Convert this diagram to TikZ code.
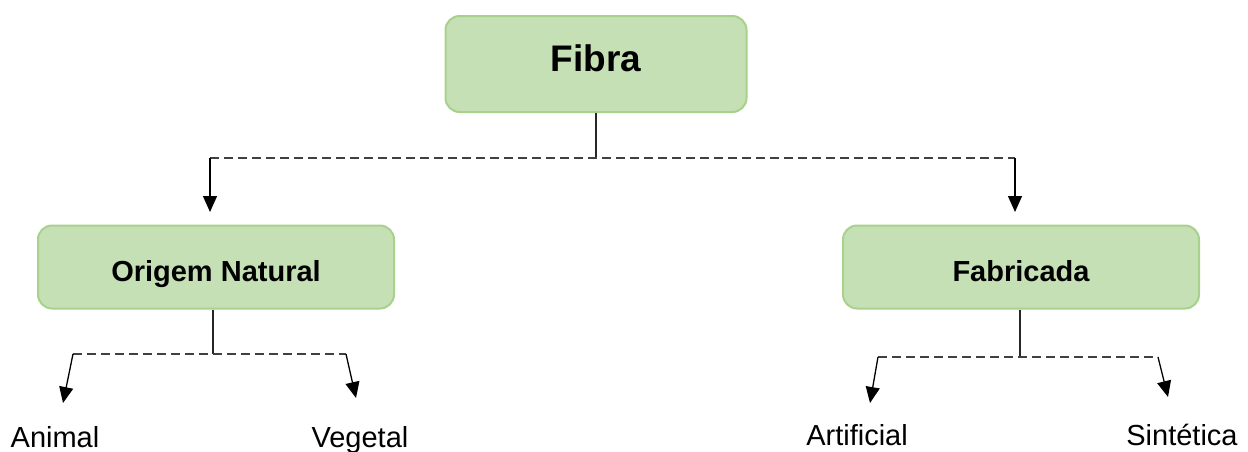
\documentclass[tikz,border=0pt]{standalone}
\usepackage{fontspec}
\setmainfont{Liberation Sans}
\usetikzlibrary{arrows.meta, positioning}
\definecolor{box-fill}{HTML}{C5E0B4}
\definecolor{box-line}{HTML}{A9D18E}
\definecolor{rail-grey}{HTML}{404040}

\begin{document}
\begin{tikzpicture}[x=1pt, y=-1pt,
  box/.style={draw=box-line, line width=2pt, fill=box-fill, rounded corners=14pt, inner sep=0pt,
    minimum width=356pt, minimum height=83pt, text height=28pt, text depth=0pt,
    font=\bfseries\fontsize{29}{34}\selectfont},
  leaf/.style={anchor=base, inner sep=0pt, font=\fontsize{29}{34}\selectfont},
  stem/.style={line width=1.2pt, draw=black!85},
  rail/.style={line width=1.2pt, draw=rail-grey, dash pattern=on 9pt off 5pt},
  tip/.style={line width=1.3pt, -{Triangle[length=16pt, width=14pt]}}]
  \useasboundingbox (0,0) rectangle (1248,451);
  % boxes
  \node[box, minimum width=301pt, minimum height=96pt, text height=27pt, text depth=13pt,
    font=\bfseries\fontsize{37}{44}\selectfont] (fibra) at (596,64) {Fibra};
  \node[box] (natural) at (216,267) {Origem Natural};
  \node[box] (fabricada) at (1021,267) {Fabricada};
  % leaves
  \node[leaf] (animal) at (55,447) {Animal};
  \node[leaf] (vegetal) at (360,447) {Vegetal};
  \node[leaf] (artificial) at (857,445) {Artificial};
  \node[leaf] (sintetica) at (1182,445) {Sintética};
  % joints and arrow ends
  \coordinate (fibra joint) at (596,158);
  \coordinate (fibra left) at (210,158);
  \coordinate (fibra right) at (1015,158);
  \coordinate (natural tip) at (210,212);
  \coordinate (fabricada tip) at (1015,212);
  \coordinate (natural joint) at (213,354);
  \coordinate (natural left) at (73,354);
  \coordinate (natural right) at (346,354);
  \coordinate (animal tip) at (63,403);
  \coordinate (vegetal tip) at (356,398);
  \coordinate (fabricada joint) at (1020,357);
  \coordinate (fabricada left) at (878,357);
  \coordinate (fabricada right) at (1158,357);
  \coordinate (artificial tip) at (870,403);
  \coordinate (sintetica tip) at (1168,397);
  % first level
  \draw[stem] (fibra.south) -- (fibra joint);
  \draw[rail] (fibra left) -- (fibra right);
  \draw[tip] (fibra left) -- (natural tip);
  \draw[tip] (fibra right) -- (fabricada tip);
  % second level
  \draw[stem] (natural.south -| natural joint) -- (natural joint);
  \draw[rail] (natural left) -- (natural right);
  \draw[tip] (natural left) -- (animal tip);
  \draw[tip] (natural right) -- (vegetal tip);
  \draw[stem] (fabricada.south -| fabricada joint) -- (fabricada joint);
  \draw[rail] (fabricada left) -- (fabricada right);
  \draw[tip] (fabricada left) -- (artificial tip);
  \draw[tip] (fabricada right) -- (sintetica tip);
\end{tikzpicture}
\end{document}
